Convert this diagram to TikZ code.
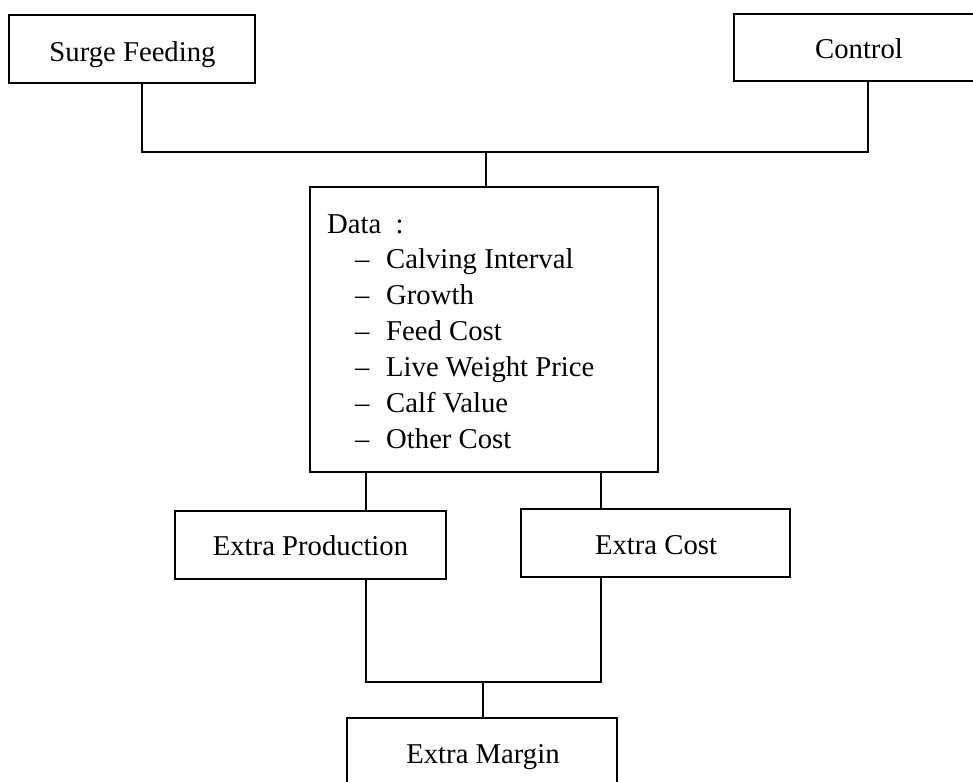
\documentclass[tikz,border=0pt]{standalone}
\usepackage{fontspec}
\setmainfont{Liberation Serif}
\begin{document}
\begin{tikzpicture}[x=1pt,y=-1pt,
  box/.style={draw, line width=1.8pt, rectangle, inner sep=0pt},
  lbl/.style={anchor=base, inner sep=0pt, font=\fontsize{28.7}{34}\selectfont},
  itm/.style={anchor=base west, inner sep=0pt, font=\fontsize{28.7}{34}\selectfont},
  wire/.style={line width=1.8pt}]
\useasboundingbox (0,0) rectangle (973,781);
\fill[white] (0,0) rectangle (973,781);
\clip (0,0) rectangle (973,781);

\node[box, minimum width=246pt, minimum height=68pt] (sf) at (132,49) {};
\node[lbl] (sft) at (132.5,62) {Surge Feeding};
\node[box, minimum width=250pt, minimum height=67pt] (ct) at (859,47.5) {};
\node[lbl] (ctt) at (859,58.5) {Control};

\node[box, minimum width=348pt, minimum height=285pt] (data) at (484,329.5) {};
\node[itm] (d0) at (327,233) {Data\ \ :};
\node[itm] (d1) at (355,268) {\makebox[31pt][l]{–}Calving Interval};
\node[itm] (d2) at (355,304) {\makebox[31pt][l]{–}Growth};
\node[itm] (d3) at (355,340) {\makebox[31pt][l]{–}Feed Cost};
\node[itm] (d4) at (355,376) {\makebox[31pt][l]{–}Live Weight Price};
\node[itm] (d5) at (355,412.5) {\makebox[31pt][l]{–}Calf Value};
\node[itm] (d6) at (355,448.5) {\makebox[31pt][l]{–}Other Cost};

\node[box, minimum width=271pt, minimum height=68pt] (ep) at (310.5,545) {};
\node[lbl] (ept) at (310.5,555) {Extra Production};
\node[box, minimum width=269pt, minimum height=68pt] (ec) at (655.5,543) {};
\node[lbl] (ect) at (656,554) {Extra Cost};
\node[box, minimum width=270pt, minimum height=80pt] (em) at (482,758) {};
\node[lbl] (emt) at (483,763) {Extra Margin};

\coordinate (j1) at (486,152);
\coordinate (j2) at (483,682);
\draw[wire] ([xshift=10pt]sf.south) |- (j1) -| ([xshift=9pt]ct.south);
\draw[wire] (j1) -- ([xshift=2pt]data.north);
\draw[wire] ([xshift=-118pt]data.south) -- ([xshift=55.5pt]ep.north);
\draw[wire] ([xshift=117pt]data.south) -- ([xshift=-54.5pt]ec.north);
\draw[wire] ([xshift=55.5pt]ep.south) |- (j2) -| ([xshift=-54.5pt]ec.south);
\draw[wire] (j2) -- ([xshift=1pt]em.north);
\end{tikzpicture}
\end{document}
